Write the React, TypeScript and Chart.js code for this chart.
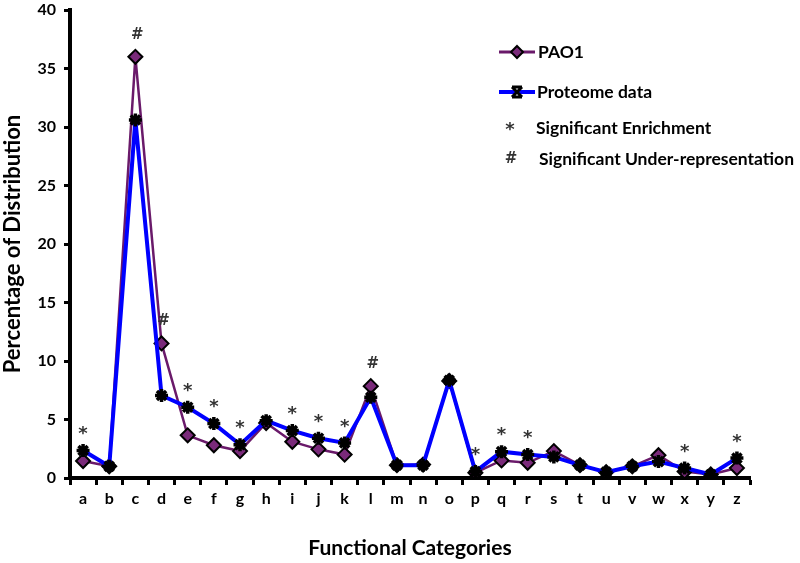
import React, { useEffect, useRef } from "react";
import { Chart, registerables } from "chart.js";

Chart.register(...registerables);

const categories = ["a","b","c","d","e","f","g","h","i","j","k","l","m","n","o","p","q","r","s","t","u","v","w","x","y","z"];
const pao1 = [1.45, 1.0, 36.0, 11.5, 3.65, 2.8, 2.3, 4.7, 3.1, 2.45, 2.0, 7.85, 1.1, 1.15, 8.3, 0.45, 1.5, 1.3, 2.3, 1.1, 0.5, 1.0, 1.95, 0.55, 0.3, 0.85];
const proteome = [2.35, 1.0, 30.6, 7.05, 6.05, 4.65, 2.85, 4.9, 4.05, 3.4, 3.0, 6.9, 1.1, 1.1, 8.35, 0.55, 2.25, 2.0, 1.8, 1.1, 0.5, 1.0, 1.4, 0.85, 0.3, 1.7];
const marks = ["*","","#","#","*","*","*","","*","*","*","#","","","","*","*","*","","","","","","*","","*"];
const yTicks = [0, 5, 10, 15, 20, 25, 30, 35, 40];
const legendLabels = ["PAO1", "Proteome data", "Significant Enrichment", "Significant Under-representation"];

const FONT = "Lato, 'Open Sans', sans-serif";
const SYM_FONT = "'DejaVu Sans', sans-serif";
const PURPLE = "#6a1a6a";
const PURPLE_FILL = "#7a2a7a";
const BLUE = "#0000ff";

function drawStar(ctx: CanvasRenderingContext2D, x: number, y: number) {
  ctx.font = `bold 18px ${SYM_FONT}`;
  ctx.fillText("*", x, y + 4);
}
function drawHash(ctx: CanvasRenderingContext2D, x: number, y: number) {
  ctx.font = `bold 15px ${SYM_FONT}`;
  ctx.fillText("#", x, y);
}

const overlayPlugin = {
  id: "overlay",
  afterDatasetsDraw(chart: any) {
    const ctx = chart.ctx;
    const xs = chart.scales.x;
    const ys = chart.scales.y;
    ctx.save();
    ctx.fillStyle = "#333";
    ctx.textAlign = "center";
    ctx.textBaseline = "middle";
    marks.forEach((m, i) => {
      if (!m) return;
      const top = Math.max(pao1[i], proteome[i]);
      const x = xs.getPixelForValue(i);
      const y = ys.getPixelForValue(top) - 20;
      if (m === "*") drawStar(ctx, x, y);
      else drawHash(ctx, x + 2, y - 2);
    });

    // legend
    const lx0 = 499, lx1 = 535, mx = 517;
    ctx.textAlign = "left";
    ctx.fillStyle = "#000";
    // PAO1
    let y = 52;
    ctx.strokeStyle = PURPLE; ctx.lineWidth = 3;
    ctx.beginPath(); ctx.moveTo(lx0, y); ctx.lineTo(lx1, y); ctx.stroke();
    ctx.beginPath();
    ctx.moveTo(mx, y - 6); ctx.lineTo(mx + 6, y); ctx.lineTo(mx, y + 6); ctx.lineTo(mx - 6, y); ctx.closePath();
    ctx.fillStyle = PURPLE_FILL; ctx.fill();
    ctx.strokeStyle = "#000"; ctx.lineWidth = 2; ctx.stroke();
    ctx.fillStyle = "#000";
    ctx.font = `bold 17.5px ${FONT}`;
    ctx.fillText(legendLabels[0], 538, y);
    // Proteome
    y = 92;
    ctx.strokeStyle = BLUE; ctx.lineWidth = 4;
    ctx.beginPath(); ctx.moveTo(lx0, y); ctx.lineTo(lx1, y); ctx.stroke();
    ctx.strokeStyle = "#000"; ctx.lineWidth = 3;
    const r = 5;
    ctx.beginPath();
    ctx.moveTo(mx - r, y - r); ctx.lineTo(mx + r, y + r);
    ctx.moveTo(mx + r, y - r); ctx.lineTo(mx - r, y + r);
    ctx.moveTo(mx - r, y - r); ctx.lineTo(mx + r, y - r);
    ctx.moveTo(mx - r, y + r); ctx.lineTo(mx + r, y + r);
    ctx.stroke();
    ctx.fillText(legendLabels[1], 537, y);
    // marks
    ctx.fillStyle = "#333";
    ctx.textAlign = "center";
    drawStar(ctx, 510, 126);
    drawHash(ctx, 511, 159);
    ctx.textAlign = "left";
    ctx.fillStyle = "#000";
    ctx.font = `bold 17.5px ${FONT}`;
    ctx.fillText(legendLabels[2], 536, 128);
    ctx.fillText(legendLabels[3], 539, 159);
    ctx.restore();
  },
};

export default function App() {
  const ref = useRef<HTMLCanvasElement>(null);
  useEffect(() => {
    if (!ref.current) return;
    const chart = new Chart(ref.current, {
      type: "line",
      data: {
        labels: categories,
        datasets: [
          {
            label: legendLabels[1],
            data: proteome,
            borderColor: BLUE,
            borderWidth: 4,
            pointStyle: "star",
            pointRadius: 6.5,
            pointBorderColor: "#000",
            pointBackgroundColor: "#000",
            pointBorderWidth: 3.5,
            tension: 0,
            order: 0,
          },
          {
            label: legendLabels[0],
            data: pao1,
            borderColor: PURPLE,
            borderWidth: 2.5,
            pointStyle: "rectRot",
            pointRadius: 7,
            pointBorderColor: "#000",
            pointBackgroundColor: PURPLE_FILL,
            pointBorderWidth: 2,
            tension: 0,
            order: 1,
          },
        ],
      },
      options: {
        animation: false,
        responsive: false,
        maintainAspectRatio: false,
        layout: { padding: { top: 8, right: 50, left: 0, bottom: 0 } },
        plugins: { legend: { display: false }, tooltip: { enabled: false } },
        scales: {
          x: {
            type: "category",
            offset: true,
            grid: {
              offset: true,
              drawOnChartArea: false,
              drawTicks: true,
              tickLength: 7,
              tickWidth: 3,
              tickColor: "#000",
            },
            border: { display: true, color: "#000", width: 4 },
            ticks: { color: "#000", font: { family: FONT, size: 16, weight: "bold" }, padding: 4, maxRotation: 0, autoSkip: false },
            title: {
              display: true,
              text: "Functional Categories",
              color: "#000",
              font: { family: FONT, size: 21, weight: "bold" },
              padding: { top: 30, bottom: 2 },
            },
            afterFit: (s: any) => { s.height = 85; s.paddingLeft = 0; s.paddingRight = 0; },
          },
          y: {
            min: 0,
            max: 40,
            afterBuildTicks: (s: any) => { s.ticks = yTicks.map((v) => ({ value: v })); },
            grid: {
              drawOnChartArea: false,
              drawTicks: true,
              tickLength: 6,
              tickWidth: 3,
              tickColor: "#000",
            },
            border: { display: true, color: "#000", width: 4 },
            ticks: { color: "#000", font: { family: FONT, size: 16, weight: "bold" }, padding: 8 },
            title: {
              display: true,
              text: "Percentage of Distribution",
              color: "#000",
              font: { family: FONT, size: 22, weight: "bold" },
              padding: { top: 0, bottom: 2 },
            },
            afterFit: (s: any) => { s.width = 70; s.paddingTop = 0; s.paddingBottom = 0; },
          },
        },
      },
      plugins: [overlayPlugin],
    } as any);
    return () => chart.destroy();
  }, []);
  return (
    <div style={{ position: "fixed", left: 0, top: 0, width: 800, height: 563, background: "#fff" }}>
      <canvas ref={ref} width={800} height={563} style={{ width: 800, height: 563, display: "block" }} />
    </div>
  );
}
